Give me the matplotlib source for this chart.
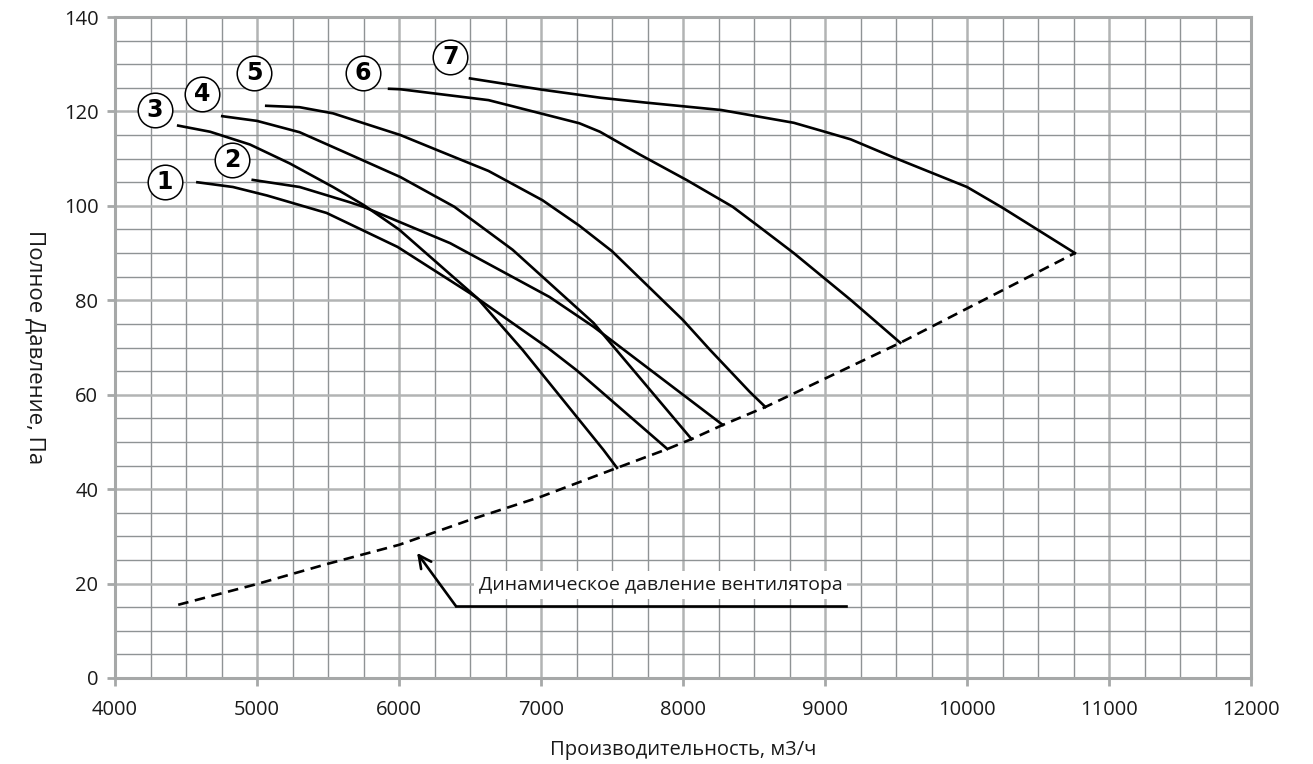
import numpy as np
import matplotlib.pyplot as plt
from matplotlib.ticker import MultipleLocator

plt.rcParams['font.family'] = ['Open Sans', 'DejaVu Sans']

# кривые вентилятора (расход м3/ч, полное давление Па)
x1 = [4580, 4830, 5070, 5490, 5990, 6500, 7040, 7250, 7890]
y1 = [105.0, 104.0, 102.2, 98.5, 91.3, 81.5, 70.1, 65.2, 48.5]
x2 = [4970, 5300, 5650, 5750, 6360, 7060, 7370, 8280]
y2 = [105.5, 104.0, 100.8, 99.8, 92.1, 80.7, 74.4, 53.6]
x3 = [4445, 4670, 4950, 5230, 5535, 5750, 6000, 6550, 6870, 7440, 7535]
y3 = [117.0, 115.7, 113.0, 109.0, 104.0, 100.2, 95.0, 80.5, 69.5, 48.3, 44.5]
x4 = [4755, 5000, 5300, 5585, 6010, 6390, 6800, 7370, 8060]
y4 = [119.0, 118.0, 115.6, 111.8, 106.1, 99.8, 90.7, 75.2, 50.6]
x5 = [5065, 5300, 5535, 6010, 6270, 6630, 7010, 7270, 7500, 8000, 8190, 8470, 8580]
y5 = [121.2, 120.9, 119.6, 115.0, 111.8, 107.4, 101.2, 95.8, 90.4, 75.8, 69.5, 60.6, 57.4]
x6 = [5930, 6010, 6630, 7270, 7415, 7700, 8030, 8350, 8540, 8780, 9180, 9530]
y6 = [124.8, 124.7, 122.4, 117.5, 115.7, 110.8, 105.4, 99.8, 95.5, 90.0, 80.1, 71.0]
x7 = [6500, 7010, 7420, 7730, 8270, 8780, 9010, 9180, 9480, 10000, 10250, 10760]
y7 = [127.0, 124.6, 122.9, 121.9, 120.3, 117.6, 115.6, 114.1, 110.3, 104.0, 99.6, 90.0]
curves_x = [x1, x2, x3, x4, x5, x6, x7]
curves_y = [y1, y2, y3, y4, y5, y6, y7]

# динамическое давление
xd = [4445, 5000, 5500, 6000, 6500, 7000, 7535, 7890, 8060, 8280, 8580, 9530, 10760]
yd = [15.5, 19.9, 24.2, 28.2, 33.5, 38.4, 44.5, 48.5, 50.6, 53.6, 57.4, 71.0, 90.0]

# номера кривых
label_names = ['1', '2', '3', '4', '5', '6', '7']
label_x = [4350, 4825, 4280, 4615, 4980, 5745, 6360]
label_y = [105.0, 109.7, 120.3, 123.7, 128.2, 128.2, 131.5]

fig = plt.figure(figsize=(13.13, 7.64), dpi=100)
ax = fig.add_axes([0.0876, 0.1126, 0.8652, 0.8651])

ax.set_xlim(4000, 12000)
ax.set_ylim(0, 140)
ax.xaxis.set_major_locator(MultipleLocator(1000))
ax.yaxis.set_major_locator(MultipleLocator(20))
ax.xaxis.set_minor_locator(MultipleLocator(250))
ax.yaxis.set_minor_locator(MultipleLocator(5))
ax.grid(which='minor', color='#8f9395', lw=1.0, zorder=0)
ax.grid(which='major', color='#b2b4b4', lw=1.8, zorder=0)
ax.set_axisbelow(True)
for s in ax.spines.values():
    s.set_color('#a6a8a8')
    s.set_linewidth(2.2)
ax.tick_params(which='major', length=6, width=2, color='#a6a8a8',
               labelsize=14.5, labelcolor='#1a1a1a')
ax.tick_params(axis='x', which='major', pad=10)
ax.tick_params(axis='y', which='major', pad=6)
ax.tick_params(which='minor', length=0)

for cx, cy in zip(curves_x, curves_y):
    ax.plot(cx, cy, color='black', lw=1.9, solid_joinstyle='round', zorder=3)

ax.plot(xd, yd, color='black', lw=1.9, ls=(0, (4, 2.5)), zorder=3)

ax.scatter(label_x, label_y, s=620, facecolor='white', edgecolor='black',
           linewidth=1.1, zorder=4)
for t, lx, ly in zip(label_names, label_x, label_y):
    ax.text(lx, ly, t, ha='center', va='center', fontsize=17, fontweight='bold',
            family=['Liberation Sans Narrow', 'DejaVu Sans'], zorder=5)

# подпись с выноской
ax.text(6560, 19.7, 'Динамическое давление вентилятора', fontsize=14,
        ha='left', va='center', color='#1a1a1a', zorder=4,
        bbox=dict(boxstyle='square,pad=0.25', facecolor='white', edgecolor='none'))
ax.plot([6400, 9150], [15.25, 15.25], color='black', lw=1.9, zorder=4)
ax.annotate('', xy=(6127, 26.5), xytext=(6400, 15.25),
            arrowprops=dict(arrowstyle='->,head_length=0.9,head_width=0.45',
                            color='black', lw=1.9, shrinkA=0, shrinkB=0),
            zorder=4)

ax.set_xlabel('Производительность, м3/ч', fontsize=14.5, color='#1a1a1a', labelpad=14)
ax.set_ylabel('Полное Давление, Па', fontsize=16, color='#1a1a1a',
              rotation=270, va='bottom', labelpad=28)

plt.savefig('out.png', dpi=100)
